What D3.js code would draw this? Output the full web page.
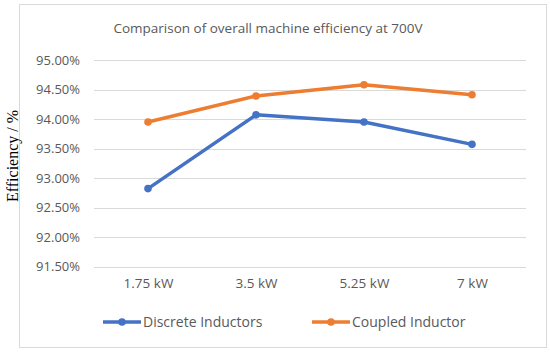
<!DOCTYPE html>
<html>
<head>
<meta charset="utf-8">
<script src="https://cdn.jsdelivr.net/npm/d3@7"></script>
<style>
  body { margin: 0; background: #fff; }
  svg text { font-family: "Open Sans", "Noto Sans", sans-serif; fill: #595959; }
</style>
</head>
<body>
<svg id="chart" width="550" height="353"></svg>
<script>
// chart data
var categories = ["1.75 kW", "3.5 kW", "5.25 kW", "7 kW"];
var discrete = [92.82, 94.07, 93.95, 93.57];
var coupled = [93.95, 94.39, 94.58, 94.41];
var yTicks = [91.5, 92.0, 92.5, 93.0, 93.5, 94.0, 94.5, 95.0];
var seriesNames = ["Discrete Inductors", "Coupled Inductor"];
var seriesColors = ["#4472C4", "#ED7D31"];

var svg = d3.select("#chart");

// outer chart frame
svg.append("rect")
  .attr("x", 19.5).attr("y", 4.5)
  .attr("width", 527).attr("height", 343)
  .attr("fill", "#fff").attr("stroke", "#d9d9d9");

var x = d3.scalePoint().domain(categories).range([94, 526]).padding(0.5);
var y = d3.scaleLinear().domain([91.5, 95.0]).range([266.5, 60]);

// grid
svg.append("g").selectAll("line").data(yTicks).enter().append("line")
  .attr("x1", 94).attr("x2", 526)
  .attr("y1", function (d) { return Math.round(y(d)) + 0.5; })
  .attr("y2", function (d) { return Math.round(y(d)) + 0.5; })
  .attr("stroke", "#d9d9d9").attr("stroke-width", 1);

// y labels
var yAxis = d3.axisLeft(y).tickValues(yTicks)
  .tickFormat(function (d) { return d.toFixed(2) + "%"; })
  .tickSize(0).tickPadding(0);
var gy = svg.append("g").attr("transform", "translate(80,0)").call(yAxis);
gy.select(".domain").remove();
gy.selectAll("text").style("font-size", "13px").attr("fill", "#595959");

// x labels
var xAxis = d3.axisBottom(x).tickSize(0).tickPadding(0);
var gx = svg.append("g").attr("transform", "translate(0,278)").call(xAxis);
gx.select(".domain").remove();
gx.selectAll("text").style("font-size", "13.5px").attr("fill", "#595959");

// title
svg.append("text")
  .attr("x", 268).attr("y", 33)
  .attr("text-anchor", "middle")
  .style("font-size", "13.5px")
  .text("Comparison of overall machine efficiency at 700V");

// y axis title
svg.append("text")
  .attr("transform", "translate(18,156) rotate(-90)")
  .attr("text-anchor", "middle")
  .style("font-family", "'Liberation Serif', 'DejaVu Serif', serif")
  .style("font-size", "16px")
  .style("fill", "#000")
  .text("Efficiency / %");

// series
var series = [discrete, coupled];
var line = d3.line()
  .x(function (d, i) { return x(categories[i]); })
  .y(function (d) { return y(d); });

series.forEach(function (vals, s) {
  svg.append("path")
    .datum(vals)
    .attr("d", line)
    .attr("fill", "none")
    .attr("stroke", seriesColors[s])
    .attr("stroke-width", 3.5)
    .attr("stroke-linejoin", "round");
  svg.append("g").selectAll("circle").data(vals).enter().append("circle")
    .attr("cx", function (d, i) { return x(categories[i]); })
    .attr("cy", function (d) { return y(d); })
    .attr("r", 3.8)
    .attr("fill", seriesColors[s]);
});

// legend
var legendX = [103, 312];
seriesNames.forEach(function (name, s) {
  var g = svg.append("g").attr("transform", "translate(" + legendX[s] + ",322)");
  g.append("line").attr("x1", 0).attr("x2", 38).attr("y1", 0).attr("y2", 0)
    .attr("stroke", seriesColors[s]).attr("stroke-width", 3.5);
  g.append("circle").attr("cx", 19).attr("cy", 0).attr("r", 3.8).attr("fill", seriesColors[s]);
  g.append("text").attr("x", 40).attr("y", 5)
    .style("font-size", "14px")
    .text(name);
});
</script>
</body>
</html>
